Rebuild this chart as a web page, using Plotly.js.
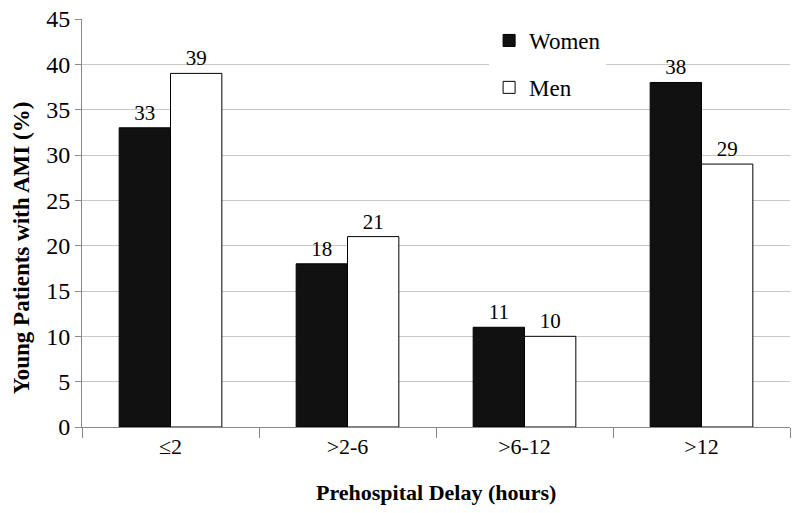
<!DOCTYPE html>
<html><head><meta charset="utf-8">
<script src="https://cdn.plot.ly/plotly-3.0.1.min.js"></script>
<style>body{margin:0;background:#fff}#c{width:800px;height:513px}</style>
</head><body><div id="c"></div>
<script>
const categories = ["≤2", ">2-6", ">6-12", ">12"];
const women = [33, 18, 11, 38];
const men = [39, 21, 10, 29];
const yTicks = [0, 5, 10, 15, 20, 25, 30, 35, 40, 45];
const xTitle = "Prehospital Delay (hours)";
const yTitle = "Young Patients with AMI (%)";

const font = "Liberation Serif";
const traces = [
  {type: "bar", name: "Women", x: categories, y: women, text: women.map(String),
   textposition: "outside", cliponaxis: false, legendgroup: "w",
   marker: {color: "#111111", line: {color: "#000", width: 1}},
   textfont: {family: font, size: 21, color: "#000"}},
  {type: "bar", name: "Men", x: categories, y: men, text: men.map(String),
   textposition: "outside", cliponaxis: false, legendgroup: "m",
   marker: {color: "#ffffff", line: {color: "#000", width: 1}},
   textfont: {family: font, size: 21, color: "#000"}}
];
const layout = {
  width: 800, height: 513,
  margin: {l: 82, r: 10, t: 19, b: 86},
  paper_bgcolor: "#ffffff", plot_bgcolor: "#ffffff",
  font: {family: font, color: "#000", size: 21},
  barmode: "group", bargap: 0.42,
  showlegend: true,
  legend: {x: 0.575, y: 1.0, traceorder: "grouped", tracegroupgap: 14,
           font: {family: font, size: 23, color: "#000"}},
  xaxis: {type: "category", tickson: "boundaries", ticks: "outside", ticklen: 10,
          tickcolor: "#888888", showline: true, linecolor: "#888888",
          showgrid: false, tickfont: {family: font, size: 22, color: "#000"}},
  yaxis: {range: [0, 45], tickvals: yTicks, ticktext: yTicks.map(String),
          ticks: "outside", ticklen: 6, tickcolor: "#888888",
          showline: true, linecolor: "#888888", gridcolor: "#c8c8c8", zeroline: false,
          tickfont: {family: font, size: 24, color: "#000"}},
  annotations: [
    {text: "<b>" + xTitle + "</b>", xref: "paper", yref: "paper", x: 0.5, y: -0.16, showarrow: false,
     xanchor: "center", yanchor: "middle",
     font: {family: font, size: 22, color: "#000"}},
    {text: "<b>" + yTitle + "</b>", xref: "paper", yref: "paper", x: -0.085, y: 0.44, showarrow: false,
     textangle: -90, xanchor: "center", yanchor: "middle",
     font: {family: font, size: 23, color: "#000"}}
  ]
};
const gd = document.getElementById("c");
Plotly.newPlot(gd, traces, layout, {displayModeBar: false}).then(() => {
  const ready = (document.fonts && document.fonts.ready) ? document.fonts.ready : Promise.resolve();
  return ready.then(() => Plotly.redraw(gd));
}).then(() => {
  gd.querySelectorAll(".xtick text, .ytick text, .legendtext").forEach(t => {
    t.style.fontFamily = "'Liberation Serif'";
  });
});
</script></body></html>
